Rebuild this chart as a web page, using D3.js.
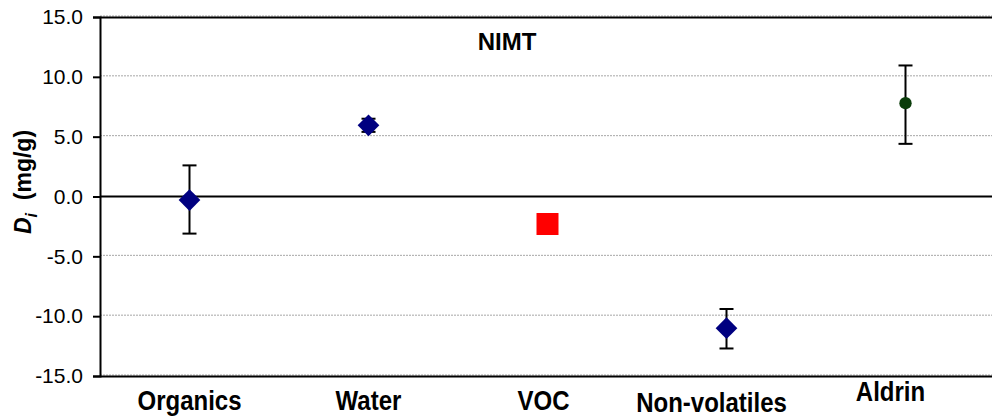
<!DOCTYPE html>
<html>
<head>
<meta charset="utf-8">
<script src="https://cdn.jsdelivr.net/npm/d3@7"></script>
<style>
  html, body { margin: 0; padding: 0; background: #fff; }
  svg { display: block; font-family: 'Liberation Sans', Arial, sans-serif; }
</style>
</head>
<body>
<svg></svg>
<script>
'use strict';

const svgWidth = 992;
const svgHeight = 417;

// data
const categories = ['Organics', 'Water', 'VOC', 'Non-volatiles', 'Aldrin'];
const values = [-0.3, 5.95, -2.3, -11.0, 7.8];
const upperErr = [2.6, 6.5, null, -9.4, 10.95];
const lowerErr = [-3.1, 5.4, null, -12.7, 4.4];
const markers = ['diamond', 'diamond', 'square', 'diamond', 'circle'];
const yTicks = [-15, -10, -5, 0, 5, 10, 15];

const svg = d3.select('svg')
  .attr('width', svgWidth)
  .attr('height', svgHeight);

const x = d3.scaleBand()
  .domain(categories)
  .range([100, 995]);

const y = d3.scaleLinear()
  .domain([-15, 15])
  .range([376, 17]);

const points = categories.map((c, i) => ({
  cat: c, v: values[i], hi: upperErr[i], lo: lowerErr[i], m: markers[i]
}));

// gridlines
svg.append('g')
  .selectAll('line')
  .data(yTicks.filter(t => t !== 0))
  .join('line')
  .attr('x1', 100).attr('x2', svgWidth)
  .attr('y1', d => y(d) - 1).attr('y2', d => y(d) - 1)
  .attr('stroke', '#a6a6a6')
  .attr('stroke-dasharray', '2,1');

// frame top / bottom + zero line
svg.append('g')
  .selectAll('line')
  .data([15, -15, 0])
  .join('line')
  .attr('x1', 100).attr('x2', svgWidth)
  .attr('y1', d => y(d) + (d === 0 ? 0 : 0.5))
  .attr('y2', d => y(d) + (d === 0 ? 0 : 0.5))
  .attr('stroke', '#000')
  .attr('stroke-width', 2);

// y axis
const yAxis = d3.axisLeft(y)
  .tickValues(yTicks)
  .tickSize(7)
  .tickFormat(d3.format('.1f'));

const yG = svg.append('g')
  .attr('transform', 'translate(100,0)')
  .call(yAxis);
yG.select('.domain').attr('stroke', '#000').attr('stroke-width', 2);
yG.selectAll('.tick line').attr('stroke', '#000').attr('stroke-width', 2);
yG.selectAll('.tick text')
  .attr('x', -17)
  .attr('font-size', 21)
  .attr('font-family', "'Liberation Sans', Arial, sans-serif")
  .attr('fill', '#000')
  .text(d => d3.format('.1f')(d).replace('−', '-'));

// y label
const yLab = svg.append('text')
  .attr('transform', 'translate(31,182) rotate(-90)')
  .attr('text-anchor', 'middle')
  .attr('font-size', 23)
  .attr('font-weight', 'bold');
yLab.append('tspan').attr('font-style', 'italic').text('D');
yLab.append('tspan').attr('font-style', 'italic').attr('font-size', 16).attr('dy', 6).text('i');
yLab.append('tspan').attr('dy', -6).text('\u00a0 (mg/g)');

// category labels (Excel staggers a couple of them); glyphs a bit taller than wide
const labelShift = { 'VOC': [-4, 0], 'Non-volatiles': [-15, 2], 'Aldrin': [-15, -9] };
svg.append('g')
  .selectAll('text')
  .data(categories)
  .join('text')
  .attr('transform', d => {
    const dx = labelShift[d] ? labelShift[d][0] : 0;
    const dy = labelShift[d] ? labelShift[d][1] : 0;
    return `translate(${x(d) + x.bandwidth() / 2 + dx},${410 + dy}) scale(1,1.15)`;
  })
  .attr('text-anchor', 'middle')
  .attr('font-size', 24)
  .attr('font-weight', 'bold')
  .text(d => d);

// title
svg.append('text')
  .attr('x', 507)
  .attr('y', 50)
  .attr('text-anchor', 'middle')
  .attr('font-size', 24)
  .attr('font-weight', 'bold')
  .text('NIMT');

const cx = d => x(d.cat) + x.bandwidth() / 2;

// error bars
const errG = svg.append('g')
  .attr('stroke', '#000')
  .attr('stroke-width', 2);
const withErr = points.filter(d => d.hi !== null);
errG.selectAll('line.v')
  .data(withErr)
  .join('line')
  .attr('class', 'v')
  .attr('x1', cx).attr('x2', cx)
  .attr('y1', d => y(d.hi)).attr('y2', d => y(d.lo));
errG.selectAll('line.hi')
  .data(withErr)
  .join('line')
  .attr('class', 'hi')
  .attr('x1', d => cx(d) - 7).attr('x2', d => cx(d) + 7)
  .attr('y1', d => y(d.hi)).attr('y2', d => y(d.hi));
errG.selectAll('line.lo')
  .data(withErr)
  .join('line')
  .attr('class', 'lo')
  .attr('x1', d => cx(d) - 7).attr('x2', d => cx(d) + 7)
  .attr('y1', d => y(d.lo)).attr('y2', d => y(d.lo));

// markers
const symFor = { diamond: d3.symbolDiamond2, square: d3.symbolSquare, circle: d3.symbolCircle };
const sizeFor = { diamond: 300, square: 484, circle: 120 };
const colorFor = { diamond: '#000080', square: '#ff0000', circle: '#0b3d0b' };

svg.append('g')
  .selectAll('path')
  .data(points)
  .join('path')
  .attr('transform', d => `translate(${cx(d)},${y(d.v)})`)
  .attr('d', d => d3.symbol().type(symFor[d.m]).size(sizeFor[d.m])())
  .attr('fill', d => colorFor[d.m]);
</script>
</body>
</html>
